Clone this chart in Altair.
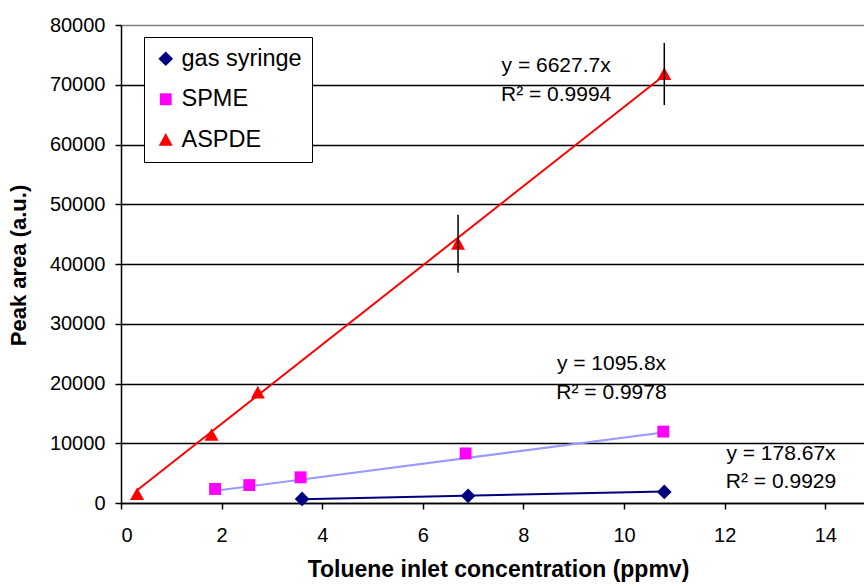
import altair as alt
import pandas as pd

# ---- data ----
series_names = ["gas syringe", "SPME", "ASPDE"]
marker_colors = ["#000080", "#FF00FF", "#FF0000"]
marker_shapes = [
    "M0,-1.05L1.05,0L0,1.05L-1.05,0Z",                # diamond
    "M-0.85,-0.85L0.85,-0.85L0.85,0.85L-0.85,0.85Z",  # square
    "M0,-0.95L1,0.85L-1,0.85Z",                       # triangle
]
trend_colors = ["#000080", "#9999FF", "#FF0000"]

gas_x = [3.6, 6.9, 10.8]
gas_y = [680, 1200, 1850]

spme_x = [1.87, 2.55, 3.57, 6.85, 10.78]
spme_y = [2350, 3000, 4300, 8300, 11950]

aspde_x = [0.32, 1.8, 2.72, 6.7, 10.8]
aspde_y = [1500, 11400, 18500, 43400, 71800]
aspde_err = [0, 0, 0, 4850, 5200]

slopes = [178.67, 1095.8, 6627.7]
r2_values = [0.9929, 0.9978, 0.9994]
eq_x = [13.12, 9.75, 8.65]
eq_y = [8200, 23260, 73140]
r2_y = [3515, 18410, 68280]

x_ticks = [0, 2, 4, 6, 8, 10, 12, 14]
y_ticks = [0, 10000, 20000, 30000, 40000, 50000, 60000, 70000, 80000]

# ---- tables ----
xs_all = [gas_x, spme_x, aspde_x]
ys_all = [gas_y, spme_y, aspde_y]

pts_rows = []
for name, xs, ys in zip(series_names, xs_all, ys_all):
    for x, y in zip(xs, ys):
        pts_rows.append({"series": name, "x": x, "y": y})
pts = pd.DataFrame(pts_rows)

line_rows = []
for name, xs, s, c in zip(series_names, xs_all, slopes, trend_colors):
    for x in (min(xs), max(xs)):
        line_rows.append({"series": name, "x": x, "y": s * x, "lc": c})
lines = pd.DataFrame(line_rows)

err_rows = []
for x, y, e in zip(aspde_x, aspde_y, aspde_err):
    if e > 0:
        err_rows.append({"x": x, "lo": y - e, "hi": y + e})
errs = pd.DataFrame(err_rows)

txt_rows = []
for s, r, tx, ty1, ty2 in zip(slopes, r2_values, eq_x, eq_y, r2_y):
    txt_rows.append({"x": tx, "y": ty1, "t": f"y = {s}x"})
    txt_rows.append({"x": tx, "y": ty2, "t": f"R\u00b2 = {r}"})
txts = pd.DataFrame(txt_rows)

xscale = alt.Scale(domain=[0, 14.77], nice=False, zero=False)
yscale = alt.Scale(domain=[0, 80000], nice=False)

x_axis = alt.Axis(
    values=x_ticks, title="Toluene inlet concentration (ppmv)", grid=False,
    labelFontSize=20, labelPadding=16, tickSize=6, tickColor="black", tickWidth=1.5,
    domainColor="black", domainWidth=1.5, labelColor="black",
    titleFontSize=23, titleFontWeight="bold", titleColor="black",
    titleX=377, titleY=73, titleAnchor="middle", titleAlign="center",
    titleBaseline="alphabetic",
)
y_axis = alt.Axis(
    values=y_ticks, format="d", title="Peak area (a.u.)",
    grid=True, gridColor={"condition": {"test": "datum.value === 80000", "value": "#808080"}, "value": "black"},
    gridWidth=1.5, labelFontSize=20, labelPadding=10, tickSize=6, tickColor="black",
    tickWidth=1.5, domainColor="black", domainWidth=1.5, labelColor="black",
    titleFontSize=22, titleFontWeight="bold", titleColor="black",
    titleX=-103, titleY=240, titleAngle=270, titleAlign="center", titleBaseline="middle",
)

base_x = alt.X("x:Q", scale=xscale, axis=x_axis)
base_y = alt.Y("y:Q", scale=yscale, axis=y_axis)

trend = alt.Chart(lines).mark_line(strokeWidth=2).encode(
    x=base_x, y=base_y,
    stroke=alt.Stroke("lc:N", scale=None),
    detail="series:N",
)

leg = alt.Legend(title=None, orient="none", legendX=23, legendY=12,
                 strokeColor="black", fillColor="white", padding=10,
                 labelFontSize=23.5, labelColor="black", symbolSize=196,
                 rowPadding=15.5, labelOffset=4, symbolOffset=0)

points = alt.Chart(pts).mark_point(filled=True, opacity=1, size=196).encode(
    x=base_x, y=base_y,
    color=alt.Color("series:N", scale=alt.Scale(domain=series_names, range=marker_colors), legend=leg),
    shape=alt.Shape("series:N", scale=alt.Scale(domain=series_names, range=marker_shapes), legend=leg),
)

errbars = alt.Chart(errs).mark_rule(color="black", strokeWidth=1.5).encode(
    x=alt.X("x:Q", scale=xscale), y=alt.Y("lo:Q", scale=yscale), y2="hi:Q",
)

labels = alt.Chart(txts).mark_text(fontSize=21, align="center", baseline="middle", color="black").encode(
    x=alt.X("x:Q", scale=xscale), y=alt.Y("y:Q", scale=yscale), text="t:N",
)

chart = alt.layer(trend, points, errbars, labels).properties(
    width=743, height=478,
    autosize=alt.AutoSizeParams(type="none"),
    padding={"left": 121, "top": 25, "right": 0, "bottom": 85},
    background="white",
).configure(font="Liberation Sans").configure_view(strokeWidth=0)

chart.save("out.html", embed_options={"renderer": "svg", "actions": False})
